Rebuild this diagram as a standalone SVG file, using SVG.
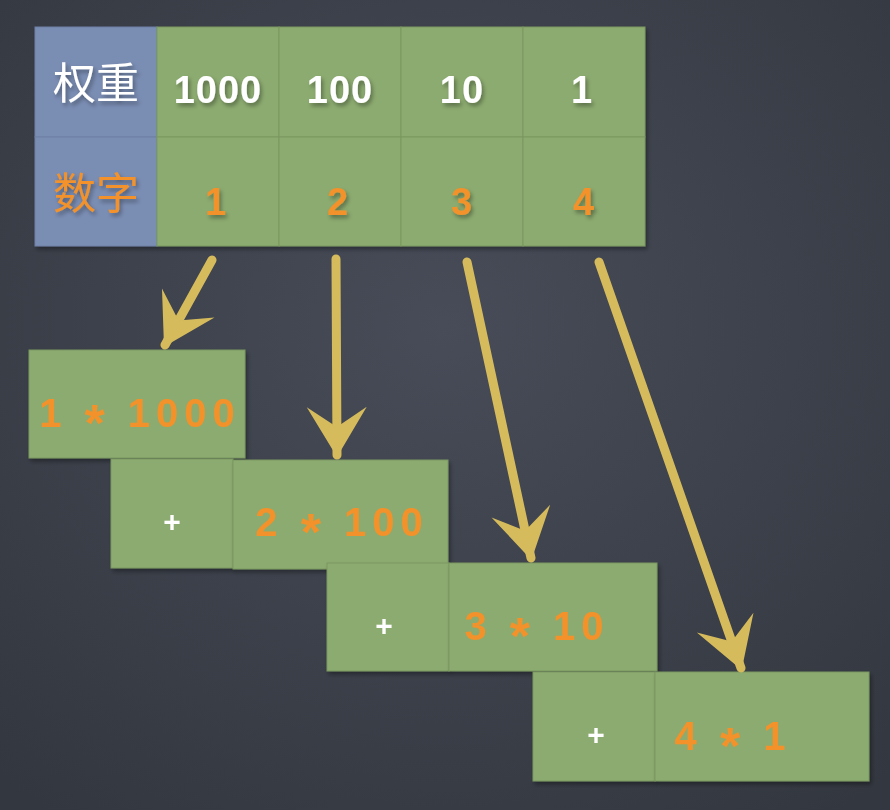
<svg xmlns="http://www.w3.org/2000/svg" width="890" height="810" viewBox="0 0 890 810">
<defs>
<radialGradient id="bg" cx="50%" cy="40%" r="75%">
<stop offset="0" stop-color="#474c58"/>
<stop offset="1" stop-color="#33373f"/>
</radialGradient>
<filter id="sh" x="-10%" y="-10%" width="130%" height="130%">
<feGaussianBlur in="SourceAlpha" stdDeviation="2"/>
<feOffset dx="2" dy="3"/>
<feComponentTransfer><feFuncA type="linear" slope="0.35"/></feComponentTransfer>
<feMerge><feMergeNode/><feMergeNode in="SourceGraphic"/></feMerge>
</filter>
<marker id="ah" viewBox="-50 -32 54 64" refX="0" refY="0" markerWidth="54" markerHeight="64" markerUnits="userSpaceOnUse" orient="auto">
<path d="M2,0 L-48,-30 L-28,0 L-48,30 Z" fill="#d6bb5c"/>
</marker>
</defs>
<style>
.green{fill:#8cab6f;stroke:#7b9860;stroke-width:1}
.blue{fill:#7a8db3;stroke:#6e80a5;stroke-width:1}
.w{fill:#ffffff;font-family:"Liberation Sans","Noto Sans CJK SC",sans-serif;text-anchor:middle}
.o{fill:#f39229;font-family:"Liberation Sans","Noto Sans CJK SC",sans-serif;text-anchor:middle}
.num{font-size:38px;font-weight:bold;letter-spacing:1px}
.box{font-size:40px;font-weight:bold;letter-spacing:6px}
.ast{font-size:52px}
.cjk{font-family:"Noto Sans CJK SC",sans-serif;font-size:43px}
.plus{font-size:30px;font-weight:bold}
.arrow{stroke:#d6bb5c;stroke-width:9;stroke-linecap:round;fill:none}
</style>
<rect width="890" height="810" fill="url(#bg)"/>

<g id="table" filter="url(#sh)">
<rect class="blue" x="35" y="27" width="122" height="110"/>
<rect class="blue" x="35" y="137" width="122" height="109"/>
<rect class="green" x="157" y="27" width="122" height="110"/>
<rect class="green" x="279" y="27" width="122" height="110"/>
<rect class="green" x="401" y="27" width="122" height="110"/>
<rect class="green" x="523" y="27" width="122" height="110"/>
<rect class="green" x="157" y="137" width="122" height="109"/>
<rect class="green" x="279" y="137" width="122" height="109"/>
<rect class="green" x="401" y="137" width="122" height="109"/>
<rect class="green" x="523" y="137" width="122" height="109"/>
</g>
<g id="table-text" filter="url(#sh)">
<text class="w cjk" x="96" y="99">权重</text>
<text class="o cjk" x="96" y="209">数字</text>
<text class="w num" x="218" y="103">1000</text>
<text class="w num" x="340" y="103">100</text>
<text class="w num" x="462" y="103">10</text>
<text class="w num" x="582" y="103">1</text>
<text class="o num" x="216" y="215">1</text>
<text class="o num" x="338" y="215">2</text>
<text class="o num" x="462" y="215">3</text>
<text class="o num" x="584" y="215">4</text>
</g>

<g id="term1" filter="url(#sh)">
<rect class="green" x="29" y="350" width="216" height="108"/>
<text class="o box" x="140" y="427">1 <tspan class="ast" dy="14">*</tspan><tspan dy="-14"> 1000</tspan></text>
</g>
<g id="plus1" filter="url(#sh)">
<rect class="green" x="111" y="459" width="122" height="109"/>
<text class="w plus" x="172" y="532">+</text>
</g>
<g id="term2" filter="url(#sh)">
<rect class="green" x="233" y="460" width="215" height="109"/>
<text class="o box" x="342" y="536">2 <tspan class="ast" dy="14">*</tspan><tspan dy="-14"> 100</tspan></text>
</g>
<g id="plus2" filter="url(#sh)">
<rect class="green" x="327" y="563" width="122" height="108"/>
<text class="w plus" x="384" y="636">+</text>
</g>
<g id="term3" filter="url(#sh)">
<rect class="green" x="449" y="563" width="208" height="108"/>
<text class="o box" x="537" y="640">3 <tspan class="ast" dy="14">*</tspan><tspan dy="-14"> 10</tspan></text>
</g>
<g id="plus3" filter="url(#sh)">
<rect class="green" x="533" y="672" width="122" height="109"/>
<text class="w plus" x="596" y="745">+</text>
</g>
<g id="term4" filter="url(#sh)">
<rect class="green" x="655" y="672" width="214" height="109"/>
<text class="o box" x="733" y="750">4 <tspan class="ast" dy="14">*</tspan><tspan dy="-14"> 1</tspan></text>
</g>

<g id="connectors">
<line class="arrow" x1="212" y1="260" x2="165" y2="345" marker-end="url(#ah)"/>
<line class="arrow" x1="336" y1="259" x2="337" y2="455" marker-end="url(#ah)"/>
<line class="arrow" x1="467" y1="262" x2="531" y2="558" marker-end="url(#ah)"/>
<line class="arrow" x1="599" y1="262" x2="741" y2="668" marker-end="url(#ah)"/>
</g>
</svg>
